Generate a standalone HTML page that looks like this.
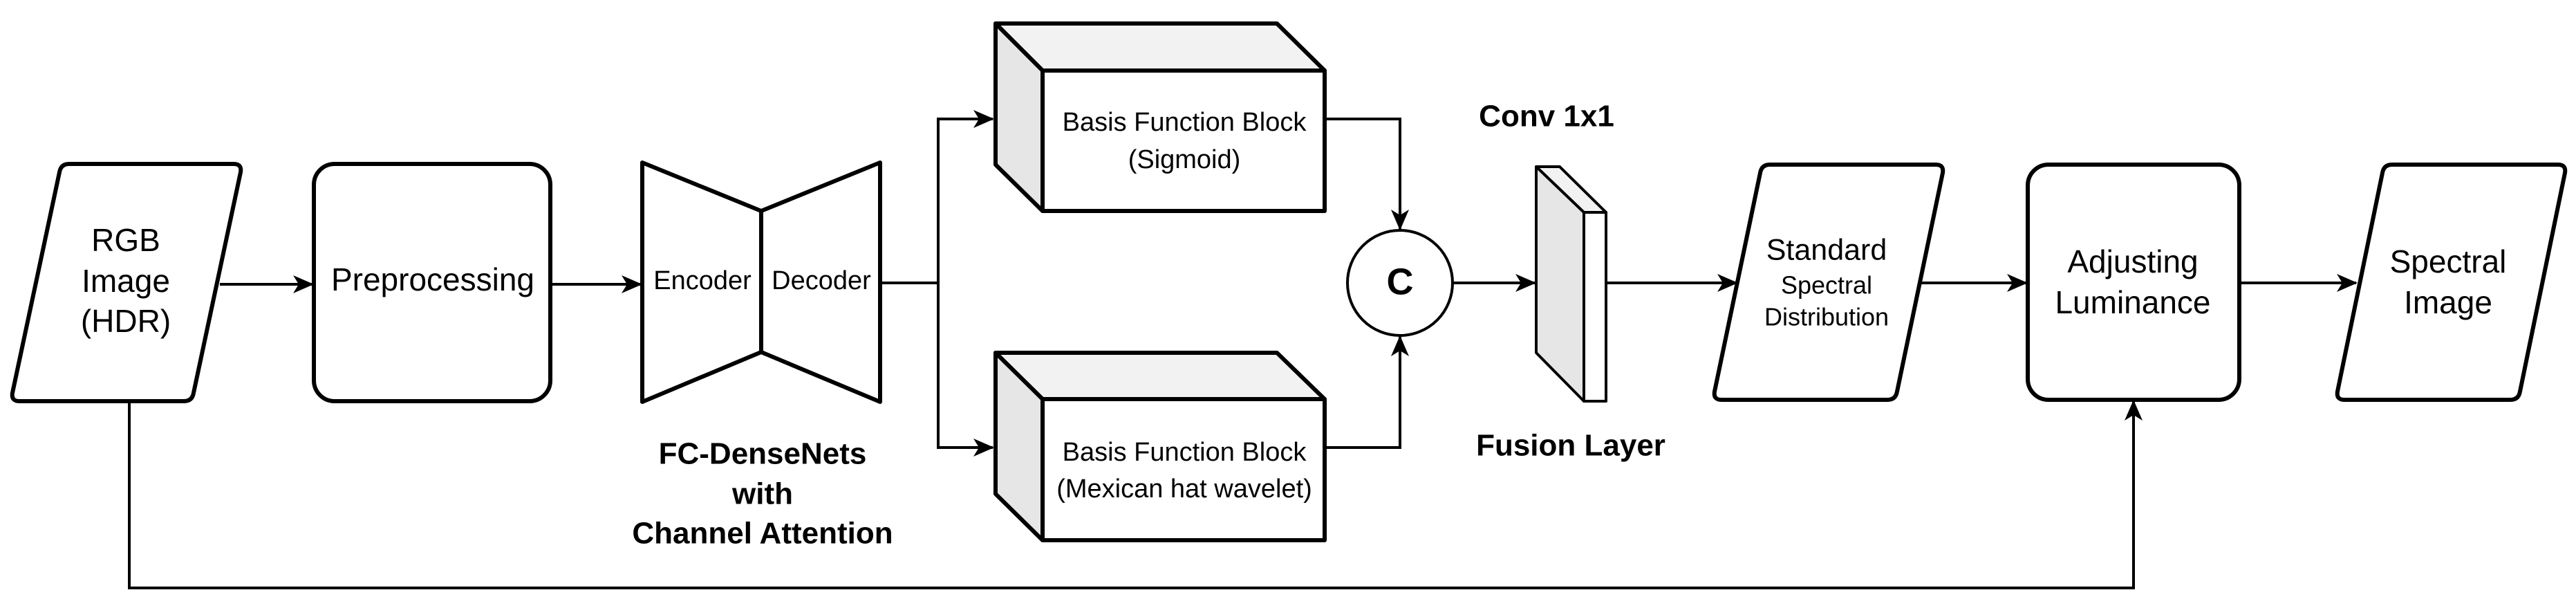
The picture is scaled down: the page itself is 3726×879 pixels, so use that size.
<!DOCTYPE html>
<html><head><meta charset="utf-8"><style>
html,body{margin:0;padding:0;background:#fff}
svg{display:block}
text{font-family:"Liberation Sans",Arial,sans-serif;fill:#000;text-anchor:middle;dominant-baseline:middle}
.b{font-weight:bold}
</style></head><body>
<svg width="3726" height="879" viewBox="0 0 3726 879" xmlns="http://www.w3.org/2000/svg">
<defs>
<marker id="a" viewBox="0 0 30 26" refX="28" refY="13" markerWidth="30" markerHeight="26" markerUnits="userSpaceOnUse" orient="auto" overflow="visible">
<path d="M0,0 L30,13 L0,26 L8,13 Z" fill="#000"/>
</marker>
</defs>
<g fill="none" stroke="#000" stroke-width="4">
<line x1="318" y1="411" x2="452" y2="411" marker-end="url(#a)"/>
<line x1="796" y1="411" x2="927" y2="411" marker-end="url(#a)"/>
<polyline points="1273,409 1357,409 1357,172 1436,172" marker-end="url(#a)"/>
<polyline points="1357,409 1357,647 1436,647"  marker-end="url(#a)"/>
<polyline points="1916,172 2025,172 2025,331" marker-end="url(#a)"/>
<polyline points="1916,647 2025,647 2025,487" marker-end="url(#a)"/>
<line x1="2101" y1="409" x2="2220" y2="409" marker-end="url(#a)"/>
<line x1="2323" y1="409" x2="2512" y2="409" marker-end="url(#a)"/>
<line x1="2779" y1="409" x2="2931" y2="409" marker-end="url(#a)"/>
<line x1="3241" y1="409" x2="3408" y2="409" marker-end="url(#a)"/>
<polyline points="187,580 187,850 3086,850 3086,580" marker-end="url(#a)"/>
</g>
<g fill="#fff" stroke="#000" stroke-width="6" stroke-linejoin="round">
<path d="M100,237 L338,237 Q350,237 348,249 L280,568 Q278,580 266,580 L28,580 Q16,580 18,568 L86,249 Q88,237 100,237 Z"/>
<rect x="454" y="237" width="342" height="343" rx="30"/>
<path d="M929,235 L1101,305 L1273,235 L1273,581 L1101,509 L929,581 Z"/>
<line x1="1101" y1="305" x2="1101" y2="509"/>
<path d="M1440,34 L1847,34 L1916,102 L1508,102 Z" fill="#f2f2f2"/>
<path d="M1440,34 L1508,102 L1508,305 L1440,238 Z" fill="#e6e6e6"/>
<rect x="1508" y="102" width="408" height="203"/>
<path d="M1440,510 L1847,510 L1916,577 L1508,577 Z" fill="#f2f2f2"/>
<path d="M1440,510 L1508,577 L1508,781 L1440,714 Z" fill="#e6e6e6"/>
<rect x="1508" y="577" width="408" height="204"/>
<path d="M2560,238 L2800,238 Q2812,238 2810,250 L2744,566 Q2742,578 2730,578 L2490,578 Q2478,578 2480,566 L2546,250 Q2548,238 2560,238 Z"/>
<rect x="2933" y="238" width="306" height="340" rx="30"/>
<path d="M3460,238 L3700,238 Q3712,238 3710,250 L3645,566 Q3643,578 3631,578 L3391,578 Q3379,578 3381,566 L3446,250 Q3448,238 3460,238 Z"/>
</g>
<g stroke="#000" stroke-width="4" stroke-linejoin="round">
<circle cx="2025" cy="409" r="76" fill="#fff"/>
<path d="M2222,241 L2256,241 L2323,307 L2291,307 Z" fill="#f2f2f2"/>
<path d="M2222,241 L2291,307 L2291,580 L2222,510 Z" fill="#e6e6e6"/>
<rect x="2291" y="307" width="32" height="273" fill="#fff"/>
</g>
<g font-size="46">
<text x="182" y="351">RGB</text>
<text x="182" y="410">Image</text>
<text x="182" y="468">(HDR)</text>
<text x="626" y="408">Preprocessing</text>
<text x="3085" y="382">Adjusting</text>
<text x="3085" y="441">Luminance</text>
<text x="3541" y="382">Spectral</text>
<text x="3541" y="441">Image</text>
<text x="2642" y="364" font-size="43">Standard</text>
</g>
<g font-size="38">
<text x="1016" y="408">Encoder</text>
<text x="1188" y="408">Decoder</text>
<text x="1713" y="179">Basis Function Block</text>
<text x="1713" y="233">(Sigmoid)</text>
<text x="1713" y="656">Basis Function Block</text>
<text x="1713" y="709">(Mexican hat wavelet)</text>
<text x="2642" y="415" font-size="36">Spectral</text>
<text x="2642" y="461" font-size="36">Distribution</text>
</g>
<g font-size="44">
<text class="b" x="1103" y="659">FC-DenseNets</text>
<text class="b" x="1103" y="717">with</text>
<text class="b" x="1103" y="774">Channel Attention</text>
<text class="b" x="2237" y="171">Conv 1x1</text>
<text class="b" x="2272" y="647">Fusion Layer</text>
<text class="b" x="2025" y="411" font-size="54">C</text>
</g>
</svg>
</body></html>
